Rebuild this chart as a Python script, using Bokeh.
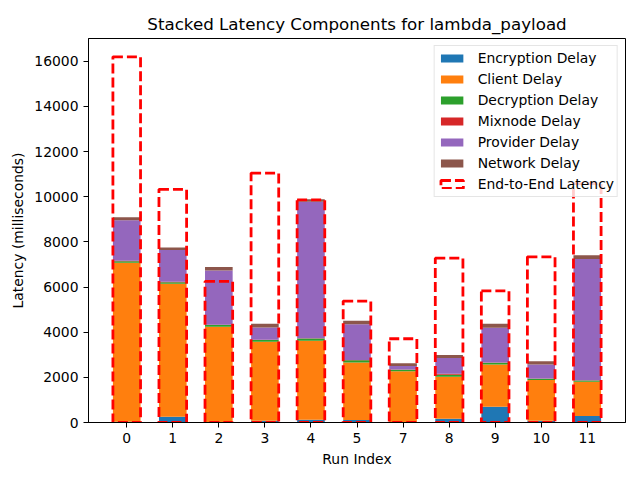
from bokeh.plotting import figure
from bokeh.models import ColumnDataSource, FactorRange, Range1d, Legend
from bokeh.embed import file_html
from bokeh.resources import INLINE

runs = ["0", "1", "2", "3", "4", "5", "7", "8", "9", "10", "11"]
encryption = [30, 260, 20, 80, 120, 110, 20, 170, 700, 80, 290]
client = [7050, 5890, 4220, 3500, 3500, 2550, 2250, 1860, 1870, 1800, 1510]
decryption = [60, 60, 80, 80, 100, 100, 70, 90, 80, 60, 60]
mixnode = [20, 30, 10, 10, 10, 10, 10, 40, 10, 10, 10]
provider = [1800, 1400, 2400, 540, 6050, 1580, 150, 700, 1540, 620, 5370]
network = [130, 110, 160, 160, 110, 160, 120, 130, 170, 140, 170]
end_to_end = [16200, 10330, 6250, 11050, 9860, 5380, 3710, 7280, 5830, 7340, 10580]

components = ["encryption", "client", "decryption", "mixnode", "provider", "network"]
labels = ["Encryption Delay", "Client Delay", "Decryption Delay", "Mixnode Delay",
          "Provider Delay", "Network Delay"]
colors = ["#1f77b4", "#ff7f0e", "#2ca02c", "#d62728", "#9467bd", "#8c564b"]

source = ColumnDataSource(dict(run=runs, encryption=encryption, client=client,
                               decryption=decryption, mixnode=mixnode,
                               provider=provider, network=network, e2e=end_to_end))

FONT = "DejaVu Sans"

p = figure(width=640, height=480, output_backend="svg", toolbar_location=None,
           x_range=FactorRange(*runs, range_padding=0.06),
           y_range=Range1d(0, 17010),
           title="Stacked Latency Components for lambda_payload",
           min_border_left=88, min_border_right=15, min_border_top=38,
           min_border_bottom=58)

renderers = p.vbar_stack(components, x="run", width=0.6, source=source,
                         color=colors, line_color=None)
e2e = p.vbar(x="run", top="e2e", width=0.6, source=source, fill_color=None,
             line_color="#ff0000", line_width=2.8, line_dash="10 4")

items = [(lab, [r]) for lab, r in zip(labels, renderers)]
items.append(("End-to-End Latency", [e2e]))
legend = Legend(items=items, location="top_right")
legend.label_text_font = FONT
legend.label_text_font_size = "13.9px"
legend.label_text_color = "black"
legend.glyph_width = 28
legend.glyph_height = 10
legend.label_height = 18
legend.spacing = 3
legend.padding = 3
legend.margin = 7
legend.label_standoff = 12
legend.border_line_color = "#cccccc"
legend.background_fill_alpha = 0.8
p.add_layout(legend)

p.title.text_font = FONT
p.title.text_font_size = "16.7px"
p.title.text_font_style = "normal"
p.title.text_color = "black"
p.title.align = "center"

for ax in (p.xaxis[0], p.yaxis[0]):
    ax.major_label_text_font = FONT
    ax.major_label_text_font_size = "13.9px"
    ax.axis_label_text_font = FONT
    ax.axis_label_text_font_size = "13.9px"
    ax.axis_label_text_font_style = "normal"
    ax.axis_label_text_color = "black"
    ax.major_tick_in = 0
    ax.major_tick_out = 5
    ax.minor_tick_line_color = None
    ax.axis_line_color = "black"
    ax.major_tick_line_color = "black"
    ax.major_label_text_color = "black"

p.xaxis.axis_label = "Run Index"
p.yaxis.axis_label = "Latency (milliseconds)"
p.yaxis.ticker = [0, 2000, 4000, 6000, 8000, 10000, 12000, 14000, 16000]
p.yaxis.formatter.use_scientific = False
p.xgrid.grid_line_color = None
p.ygrid.grid_line_color = None
p.outline_line_color = "black"
p.outline_line_alpha = 1

open("out.html", "w").write(file_html(p, INLINE))
